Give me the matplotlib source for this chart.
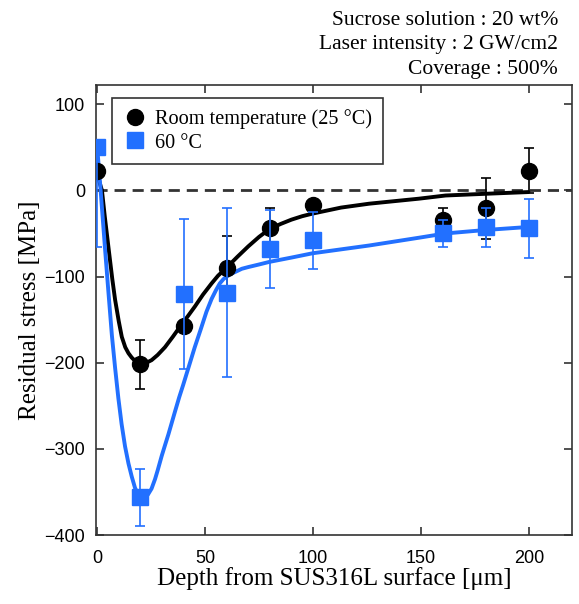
import numpy as np
import matplotlib
matplotlib.use("Agg")
import matplotlib.pyplot as plt

# measured points
depth = [0, 20, 40, 60, 80, 100, 160, 180, 200]
rt_stress = [22, -202, -157, -90, -44, -17, -34, -21, 23]
rt_err = [0, 28, 5, 37, 24, 5, 14, 35, 26]
hot_stress = [50, -356, -120, -119, -68, -58, -50, -43, -44]
hot_err_low = [116, 33, 87, 98, 45, 33, 16, 23, 34]
hot_err_high = [0, 33, 87, 98, 45, 33, 16, 23, 34]

# fitted curves
rt_fit_x = [0, 1, 2.2, 3.5, 5.5, 7, 8.3, 10, 11.4, 13, 14.5, 16, 18, 19.8, 22, 25.2,
            28, 31.4, 35, 39, 42, 45.2, 49, 53, 56, 59.8, 65, 70, 75, 79.8, 85, 90,
            95, 99.8, 113, 126, 149, 161.4, 180, 199.8]
rt_fit_y = [22, 10, 0, -30, -72, -103, -127, -152, -170, -182, -189, -194, -199,
            -201, -201, -197, -191, -182, -170, -156, -146, -135, -121, -108, -99,
            -90, -77, -65, -54, -45, -39, -34, -30, -27, -20, -15.5, -9.7, -6, -4, -2]
hot_fit_x = [0, 1.5, 3.7, 5.2, 6.8, 8.3, 9.8, 11.3, 12.9, 14.5, 16, 17.5, 19, 20.6,
             22, 23.5, 25.2, 26.8, 28, 29.9, 31.5, 33, 34.5, 36, 38, 39.8, 42.5, 45.2,
             48, 50.6, 53, 55, 56.8, 58.5, 60, 62, 64.5, 67, 70, 75, 79.8, 90, 99.8,
             126, 149, 161.4, 180, 199.8]
hot_fit_y = [50, 3, -70, -118, -168, -206, -241, -271, -297, -317, -332, -345, -353,
             -357, -357, -353, -346, -335, -325, -308, -295, -283, -270, -257, -240,
             -226, -204, -182, -161, -141, -126, -116, -108, -103, -100, -97, -94,
             -91, -89, -86, -83, -78, -73, -64, -55, -50, -46, -42.5]

blue = '#2270ff'
serif = ['Liberation Serif', 'DejaVu Serif']
sans = ['Liberation Sans Narrow', 'Liberation Sans', 'DejaVu Sans']

fig = plt.figure(figsize=(5.79, 6.04), dpi=100)
ax = fig.add_axes([0.166, 0.114, 0.822, 0.745])

ax.axhline(0, color='#333333', lw=2, ls=(0, (4, 2.5)), zorder=1)

ax.plot(rt_fit_x, rt_fit_y, color='black', lw=2.8, zorder=2,
        solid_joinstyle='round', solid_capstyle='round')
ax.plot(hot_fit_x, hot_fit_y, color=blue, lw=2.8, zorder=3,
        solid_joinstyle='round', solid_capstyle='round')

ax.errorbar(depth, rt_stress, yerr=rt_err, fmt='o', color='black', ms=11.5,
            elinewidth=1.2, capsize=3.5, capthick=1.2, zorder=4,
            label='Room temperature (25 °C)')
ax.errorbar(depth, hot_stress, yerr=[hot_err_low, hot_err_high], fmt='s', color=blue,
            ms=11, elinewidth=1.2, capsize=3.5, capthick=1.2, zorder=5, label='60 °C')

ax.set_xlim(-0.5, 220)
ax.set_ylim(-400, 122)
ax.set_xticks([0, 50, 100, 150, 200])
ax.set_yticks([-400, -300, -200, -100, 0, 100])
ax.tick_params(direction='in', top=True, right=True, length=6, width=1.2,
               color='#333333', labelsize=13, pad=8)
ax.tick_params(axis='x', pad=11)
for lab in ax.get_xticklabels() + ax.get_yticklabels():
    lab.set_family(sans)
for s in ax.spines.values():
    s.set_linewidth(1.2)
    s.set_color('#333333')

ax.set_xlabel('Depth from SUS316L surface [μm]', family=serif, fontsize=18, labelpad=0)
ax.set_ylabel('Residual stress [MPa]', family=serif, fontsize=18, labelpad=2)

handles, labels = ax.get_legend_handles_labels()
handles = [h[0] for h in handles]
leg = ax.legend(handles, labels, loc='upper left', bbox_to_anchor=(0.034, 0.971),
                prop={'family': serif, 'size': 14.6}, fancybox=False,
                edgecolor='#333333', handletextpad=0.45, borderpad=0.55,
                labelspacing=0.2, handlelength=1.1, borderaxespad=0, framealpha=1)
leg.get_frame().set_linewidth(1.2)

fig.text(0.964, 0.982, 'Sucrose solution : 20 wt%\nLaser intensity : 2 GW/cm2\nCoverage : 500%',
         ha='right', va='top', family=serif, fontsize=15.5, linespacing=1.4)

fig.savefig('out.png', dpi=100)
